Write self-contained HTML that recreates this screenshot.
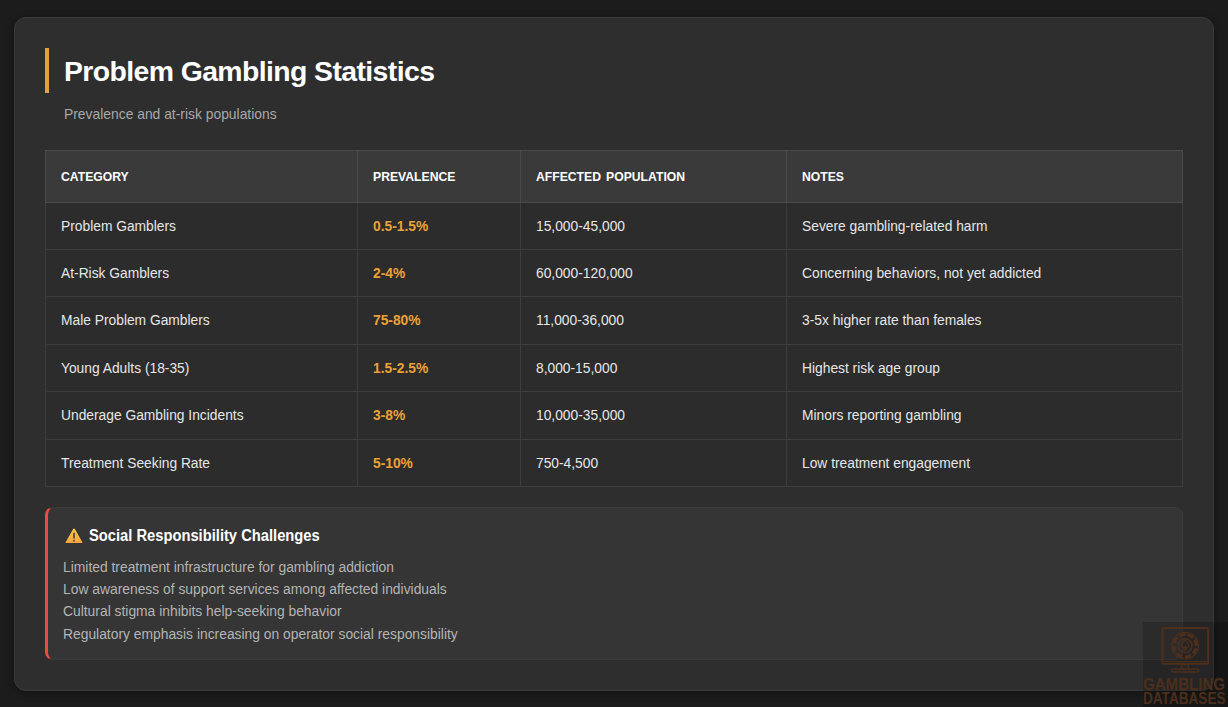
<!DOCTYPE html>
<html>
<head>
<meta charset="utf-8">
<style>
*{box-sizing:border-box}
html,body{margin:0;padding:0}
body{width:1228px;height:707px;overflow:hidden;background:#1c1c1c;font-family:"Liberation Sans",Arial,sans-serif;position:relative}
.card{position:absolute;left:14px;top:17px;width:1200px;height:674px;background:#2e2e2e;border:1px solid #3b3b3b;border-radius:12px;box-shadow:0 2px 8px rgba(0,0,0,.35)}
.ttl{position:absolute;left:30px;top:30px;height:45px;border-left:4px solid #e4a13a;padding-left:15px;margin:0}
.ttl h2{margin:0;font-size:28.4px;letter-spacing:-0.6px;line-height:46px;font-weight:700;color:#fff;white-space:nowrap}
.sub{position:absolute;left:49px;top:86px;font-size:13.87px;line-height:20px;color:#a8a8a8;margin:0;white-space:nowrap}
table{position:absolute;left:30px;top:132px;width:1138px;border-collapse:collapse;table-layout:fixed;border:1px solid #3c3c3c}
th,td{border:1px solid #3d3d3d;text-align:left;padding:0 0 0 15px;white-space:nowrap}
th{border-color:#4b4b4b;background:#3a3a3a;color:#fff;font-size:12.2px;font-weight:700;height:52px;letter-spacing:0;word-spacing:1.7px}
td{font-size:13.8px;color:#e6e6e6;height:47px;line-height:22.4px;padding-top:2px;background:#2c2c2c}
tr.h48 td{height:48px}
td.p{color:#eda135;font-weight:700}
.call{position:absolute;left:30px;top:489px;width:1138px;height:153px;background:#353535;border:1px solid #3b3b3b;border-left:3px solid #ee4b3c;border-radius:8px}
.call h3{position:absolute;left:17px;top:16px;margin:0;font-size:16px;line-height:24px;color:#fff;font-weight:700;white-space:nowrap}
.call h3 svg{position:absolute;left:0;top:4px}
.call h3 span{position:absolute;left:24px;top:0;transform:scaleX(.92);transform-origin:0 0}
.call ul{position:absolute;left:15px;top:47.6px;margin:0;padding:0;list-style:none;font-size:13.85px;line-height:22.4px;color:#b4b4b4}
.call li{white-space:nowrap}
.wm{position:absolute;left:1143px;top:622px;width:85px;height:85px;background:rgba(0,0,0,.18);overflow:hidden}
.wm .t{position:absolute;left:0px;font-family:"Liberation Sans",sans-serif;font-weight:700;color:#4b2e1b;font-size:16px;line-height:15px;white-space:nowrap;transform-origin:0 0}
</style>
</head>
<body>
<div class="card">
  <div class="ttl"><h2>Problem Gambling Statistics</h2></div>
  <p class="sub">Prevalence and at-risk populations</p>
  <table>
    <colgroup><col style="width:312px"><col style="width:163px"><col style="width:266px"><col style="width:396px"></colgroup>
    <thead><tr><th>CATEGORY</th><th>PREVALENCE</th><th>AFFECTED POPULATION</th><th>NOTES</th></tr></thead>
    <tbody>
      <tr><td>Problem Gamblers</td><td class="p">0.5-1.5%</td><td>15,000-45,000</td><td>Severe gambling-related harm</td></tr>
      <tr><td>At-Risk Gamblers</td><td class="p">2-4%</td><td>60,000-120,000</td><td>Concerning behaviors, not yet addicted</td></tr>
      <tr class="h48"><td>Male Problem Gamblers</td><td class="p">75-80%</td><td>11,000-36,000</td><td>3-5x higher rate than females</td></tr>
      <tr><td>Young Adults (18-35)</td><td class="p">1.5-2.5%</td><td>8,000-15,000</td><td>Highest risk age group</td></tr>
      <tr class="h48"><td>Underage Gambling Incidents</td><td class="p">3-8%</td><td>10,000-35,000</td><td>Minors reporting gambling</td></tr>
      <tr><td>Treatment Seeking Rate</td><td class="p">5-10%</td><td>750-4,500</td><td>Low treatment engagement</td></tr>
    </tbody>
  </table>
  <div class="call">
    <h3><svg width="18" height="16" viewBox="0 0 18 16"><defs><linearGradient id="wg" x1="0" y1="0" x2="0" y2="1"><stop offset="0" stop-color="#ffcc4a"/><stop offset="1" stop-color="#f6a43c"/></linearGradient></defs><path d="M9 0.6 Q9.6 0.6 10 1.3 L17.4 14.2 Q17.7 15 16.9 15 L1.1 15 Q0.3 15 0.6 14.2 L8 1.3 Q8.4 0.6 9 0.6Z" fill="url(#wg)"/><rect x="8.1" y="4.6" width="1.8" height="6.2" rx=".8" fill="#5a4650"/><circle cx="9" cy="12.7" r="1" fill="#5a4650"/></svg><span>Social Responsibility Challenges</span></h3>
    <ul>
      <li>Limited treatment infrastructure for gambling addiction</li>
      <li>Low awareness of support services among affected individuals</li>
      <li>Cultural stigma inhibits help-seeking behavior</li>
      <li>Regulatory emphasis increasing on operator social responsibility</li>
    </ul>
  </div>
</div>
<div class="wm">
  <svg width="85" height="56" viewBox="0 0 85 56" style="position:absolute;left:0;top:0">
    <g fill="none" stroke="#4e2f1b">
      <rect x="19.5" y="6" width="45.6" height="35.8" rx="1.2" stroke-width="2"/>
      <path d="M21 39.6 H63.6" stroke-width="1"/>
      <circle cx="42.1" cy="23.7" r="13.3" stroke-width="1.2"/>
      <circle cx="42.1" cy="23.7" r="11.2" stroke-width="3" stroke-dasharray="6.4 2.4" transform="rotate(-78 42.1 23.7)"/>
      <circle cx="42.1" cy="23.7" r="6.9" stroke-width="1.4"/>
      <path d="M42.1 18 C40 20.3 38.6 21.8 38.6 23.8 C38.6 25.4 40.3 26.2 41.5 25.3 L40.9 27.6 L43.3 27.6 L42.7 25.3 C43.9 26.2 45.6 25.4 45.6 23.8 C45.6 21.8 44.2 20.3 42.1 18 Z" stroke-width="1.2"/>
      <rect x="39" y="42.6" width="6.4" height="4.4" stroke-width="1.3"/>
      <rect x="28.6" y="47.2" width="27.4" height="2.8" rx="1.4" stroke-width="1.3"/>
    </g>
  </svg>
  <div class="t" style="top:54.6px;transform:scaleX(.941)">GAMBLING</div>
  <div class="t" style="top:68.6px;transform:scaleX(.849)">DATABASES</div>
</div>
</body>
</html>
